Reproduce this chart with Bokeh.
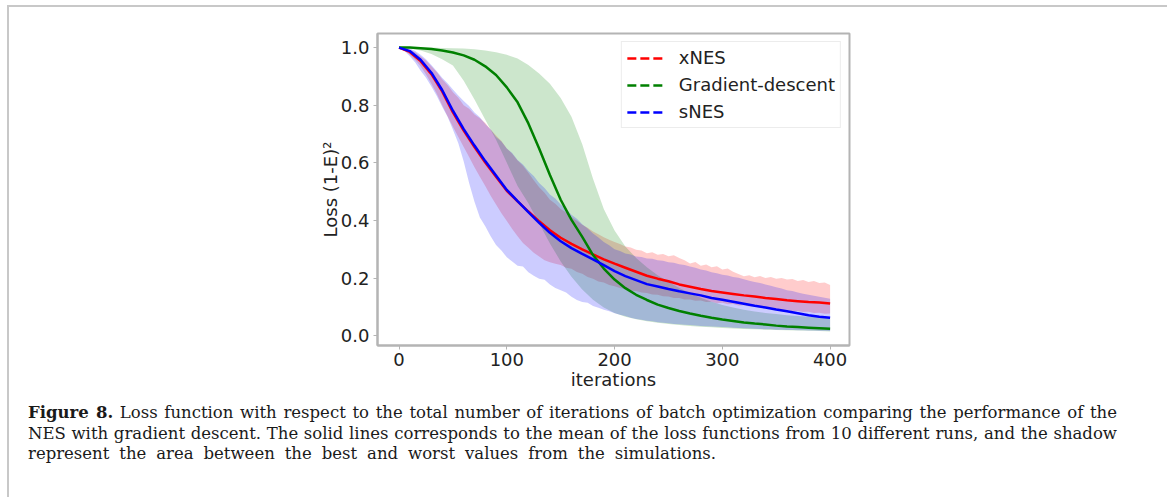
from bokeh.plotting import figure
from bokeh.models import Range1d, FixedTicker, Legend, LegendItem, Div, NumeralTickFormatter
from bokeh.layouts import column
from bokeh.embed import file_html
from bokeh.resources import INLINE

# ---------------- data ----------------
iterations = list(range(0, 401, 10))
iterations_fine = list(range(0, 401, 5))

xnes_mean = [1.0, 0.985, 0.953, 0.908, 0.848, 0.775, 0.712, 0.655, 0.601, 0.552,
             0.503, 0.466, 0.431, 0.397, 0.366, 0.340, 0.319, 0.300, 0.282, 0.265,
             0.250, 0.236, 0.222, 0.208, 0.198, 0.189, 0.178, 0.170, 0.162, 0.155,
             0.150, 0.145, 0.140, 0.136, 0.131, 0.127, 0.123, 0.120, 0.117, 0.115, 0.112]
# band edges on the finer 5-iteration grid
xnes_upper = [1.0, 0.998, 0.993, 0.984, 0.970, 0.955, 0.935, 0.915, 0.890, 0.870,
              0.845, 0.826, 0.800, 0.788, 0.768, 0.755, 0.738, 0.716, 0.695, 0.676,
              0.650, 0.632, 0.608, 0.590, 0.566, 0.540, 0.515, 0.496, 0.472, 0.458,
              0.440, 0.428, 0.412, 0.399, 0.385, 0.375, 0.362, 0.352, 0.342, 0.333,
              0.325, 0.318, 0.310, 0.306, 0.298, 0.296, 0.286, 0.290, 0.281, 0.284,
              0.276, 0.279, 0.270, 0.262, 0.251, 0.256, 0.243, 0.247, 0.238, 0.241,
              0.230, 0.233, 0.222, 0.214, 0.206, 0.210, 0.203, 0.207, 0.200, 0.204,
              0.198, 0.200, 0.195, 0.197, 0.190, 0.193, 0.186, 0.190, 0.183, 0.185, 0.176]
xnes_lower = [1.0, 0.990, 0.975, 0.957, 0.935, 0.907, 0.875, 0.840, 0.800, 0.762,
              0.725, 0.690, 0.655, 0.620, 0.585, 0.552, 0.520, 0.486, 0.455, 0.425,
              0.398, 0.370, 0.345, 0.322, 0.305, 0.288, 0.275, 0.262, 0.255, 0.250,
              0.245, 0.236, 0.232, 0.221, 0.215, 0.204, 0.198, 0.188, 0.185, 0.176,
              0.172, 0.166, 0.162, 0.156, 0.155, 0.150, 0.148, 0.143, 0.142, 0.137,
              0.136, 0.131, 0.131, 0.126, 0.126, 0.121, 0.122, 0.117, 0.118, 0.113,
              0.114, 0.109, 0.110, 0.105, 0.106, 0.101, 0.102, 0.097, 0.098, 0.093,
              0.094, 0.089, 0.090, 0.085, 0.086, 0.082, 0.083, 0.079, 0.080, 0.076, 0.077]

gd_mean = [1.0, 1.0, 0.998, 0.995, 0.990, 0.983, 0.973, 0.958, 0.935, 0.905,
           0.862, 0.810, 0.737, 0.650, 0.558, 0.472, 0.402, 0.343, 0.280, 0.233,
           0.195, 0.165, 0.142, 0.124, 0.108, 0.096, 0.086, 0.077, 0.069, 0.062,
           0.056, 0.051, 0.046, 0.042, 0.039, 0.035, 0.032, 0.030, 0.028, 0.026, 0.024]
gd_upper = [1.0, 1.0, 1.0, 1.0, 0.999, 0.998, 0.997, 0.994, 0.990, 0.984,
            0.975, 0.962, 0.940, 0.910, 0.875, 0.825, 0.760, 0.665, 0.545, 0.440,
            0.365, 0.310, 0.270, 0.238, 0.210, 0.187, 0.166, 0.148, 0.132, 0.118,
            0.107, 0.098, 0.090, 0.084, 0.079, 0.075, 0.071, 0.068, 0.066, 0.064, 0.062]
gd_lower = [1.0, 0.997, 0.990, 0.978, 0.960, 0.938, 0.885, 0.820, 0.750, 0.680,
            0.600, 0.520, 0.460, 0.390, 0.320, 0.258, 0.205, 0.160, 0.125, 0.098,
            0.079, 0.066, 0.057, 0.050, 0.045, 0.041, 0.037, 0.034, 0.031, 0.029,
            0.027, 0.025, 0.023, 0.022, 0.021, 0.020, 0.019, 0.018, 0.017, 0.016, 0.015]

snes_mean = [1.0, 0.988, 0.958, 0.913, 0.853, 0.781, 0.717, 0.660, 0.606, 0.556,
             0.506, 0.467, 0.429, 0.392, 0.357, 0.328, 0.304, 0.284, 0.265, 0.245,
             0.224, 0.207, 0.193, 0.179, 0.171, 0.162, 0.154, 0.147, 0.140, 0.131,
             0.125, 0.118, 0.111, 0.104, 0.098, 0.091, 0.085, 0.078, 0.071, 0.066, 0.062]
snes_upper = [1.0, 0.999, 0.997, 0.988, 0.975, 0.960, 0.940, 0.918, 0.895, 0.876,
              0.855, 0.834, 0.815, 0.797, 0.775, 0.758, 0.735, 0.716, 0.690, 0.674,
              0.650, 0.634, 0.610, 0.594, 0.572, 0.554, 0.530, 0.513, 0.490, 0.476,
              0.455, 0.440, 0.420, 0.406, 0.387, 0.372, 0.355, 0.341, 0.325, 0.314,
              0.300, 0.294, 0.285, 0.282, 0.275, 0.273, 0.268, 0.267, 0.262, 0.260,
              0.255, 0.253, 0.248, 0.245, 0.240, 0.236, 0.230, 0.226, 0.220, 0.217,
              0.212, 0.209, 0.204, 0.201, 0.196, 0.191, 0.186, 0.183, 0.178, 0.173,
              0.168, 0.164, 0.158, 0.155, 0.150, 0.146, 0.142, 0.139, 0.135, 0.132, 0.128]
snes_lower = [1.0, 0.988, 0.970, 0.948, 0.920, 0.895, 0.865, 0.832, 0.795, 0.760,
              0.715, 0.668, 0.605, 0.530, 0.465, 0.410, 0.380, 0.345, 0.315, 0.296,
              0.272, 0.258, 0.243, 0.240, 0.220, 0.208, 0.198, 0.194, 0.178, 0.166,
              0.158, 0.150, 0.135, 0.124, 0.117, 0.114, 0.103, 0.097, 0.090, 0.085,
              0.078, 0.073, 0.068, 0.062, 0.058, 0.055, 0.052, 0.050, 0.047, 0.045,
              0.043, 0.041, 0.040, 0.038, 0.037, 0.035, 0.034, 0.033, 0.032, 0.031,
              0.030, 0.029, 0.028, 0.027, 0.026, 0.025, 0.024, 0.023, 0.022, 0.022,
              0.021, 0.021, 0.020, 0.020, 0.019, 0.019, 0.018, 0.018, 0.017, 0.017, 0.016]

series_names = ["xNES", "Gradient-descent", "sNES"]
x_ticks = [0, 100, 200, 300, 400]
y_ticks = [0.0, 0.2, 0.4, 0.6, 0.8, 1.0]

caption_bold = "Figure 8."
caption_lines = [
    "Loss function with respect to the total number of iterations of batch optimization comparing the performance of the",
    "NES with gradient descent. The solid lines corresponds to the mean of the loss functions from 10 different runs, and the shadow",
    "represent the area between the best and worst values from the simulations.",
]

# ---------------- layout ----------------
PAGE_L, PAGE_T, BORDER = 7, 5, 2
IN_L, IN_T = PAGE_L + BORDER, PAGE_T + BORDER   # content origin on the page
IN_R = 1161
FIG_W = IN_R - IN_L
FL, FR, FT, FB = 377, 849, 33, 345            # frame in page pixels
FIG_BOTTOM_PAD = 50
FIG_H = (FT - IN_T) + (FB - FT) + FIG_BOTTOM_PAD

p = figure(width=FIG_W, height=FIG_H, output_backend="svg", toolbar_location=None,
           x_range=Range1d(-20, 418), y_range=Range1d(-0.034, 1.049),
           min_border_left=FL - IN_L, min_border_right=IN_R - FR,
           min_border_top=FT - IN_T, min_border_bottom=FIG_BOTTOM_PAD)
p.background_fill_color = "white"
p.border_fill_color = "white"
p.outline_line_color = "#b4b4b4"
p.outline_line_width = 2
p.grid.visible = False

colors = {"xNES": "#ff0000", "Gradient-descent": "#008000", "sNES": "#0000ff"}

# bands
p.varea(x=iterations_fine, y1=xnes_lower, y2=xnes_upper, fill_color=colors["xNES"], fill_alpha=0.2)
p.varea(x=iterations, y1=gd_lower, y2=gd_upper, fill_color=colors["Gradient-descent"], fill_alpha=0.2)
p.varea(x=iterations_fine, y1=snes_lower, y2=snes_upper, fill_color=colors["sNES"], fill_alpha=0.2)

# mean lines
p.line(x=iterations, y=xnes_mean, line_color=colors["xNES"], line_width=2.5)
p.line(x=iterations, y=gd_mean, line_color=colors["Gradient-descent"], line_width=2.5)
p.line(x=iterations, y=snes_mean, line_color=colors["sNES"], line_width=2.5)

# legend with dashed samples
nan = float("nan")
items = []
for name in series_names:
    r = p.line(x=[nan], y=[nan], line_color=colors[name], line_width=2.5, line_dash="9 4")
    items.append(LegendItem(label=name, renderers=[r]))
legend = Legend(items=items, location="top_right")
legend.label_text_font = "DejaVu Sans"
legend.label_text_font_size = "18px"
legend.label_text_color = "#222222"
legend.glyph_width = 37
legend.glyph_height = 20
legend.label_height = 20
legend.label_width = 152
legend.label_standoff = 15
legend.spacing = 6
legend.padding = 5
legend.margin = 8
legend.border_line_color = "#d9d9d9"
legend.border_line_width = 1
legend.background_fill_alpha = 0.85
p.add_layout(legend)

# axes
for ax in (p.xaxis[0], p.yaxis[0]):
    ax.axis_line_color = "#b4b4b4"
    ax.axis_line_width = 2
    ax.major_tick_line_color = "#b4b4b4"
    ax.major_tick_line_width = 1
    ax.major_tick_out = 4
    ax.major_tick_in = 0
    ax.minor_tick_line_color = None
    ax.major_label_text_font = "DejaVu Sans"
    ax.major_label_text_font_size = "18px"
    ax.major_label_text_color = "#222222"
    ax.axis_label_text_font = "DejaVu Sans"
    ax.axis_label_text_font_size = "18px"
    ax.axis_label_text_font_style = "normal"
    ax.axis_label_text_color = "#222222"

p.xaxis.ticker = FixedTicker(ticks=x_ticks)
p.yaxis.ticker = FixedTicker(ticks=y_ticks)
p.yaxis.formatter = NumeralTickFormatter(format="0.0")
p.xaxis.axis_label = "iterations"
p.yaxis.axis_label = "Loss (1-E)²"
p.xaxis.major_label_standoff = 3
p.xaxis.axis_label_standoff = 0
p.yaxis.major_label_standoff = 4
p.yaxis.axis_label_standoff = -3

# caption
just = "text-align:justify;text-align-last:justify;"
cap_html = (
    "<div style=\"font-family:'DejaVu Serif';font-size:16.5px;line-height:20.5px;"
    "color:#1a1a1a;box-sizing:border-box;width:1103px;padding:3px 0 0 14px;\">"
    f"<div style=\"{just}\"><b>{caption_bold}</b> {caption_lines[0]}</div>"
    f"<div style=\"{just}\">{caption_lines[1]}</div>"
    f"<div style=\"white-space:nowrap;word-spacing:4.7px;\">{caption_lines[2]}</div>"
    "</div>"
)
cap = Div(text=cap_html, width=FIG_W, height=497 - IN_T - FIG_H)

root = column(p, cap, margin=(PAGE_T, 0, 0, PAGE_L),
              styles={"border-top": f"{BORDER}px solid #c8c8c8",
                      "border-left": f"{BORDER}px solid #c8c8c8",
                      "border-right": f"{BORDER}px solid #c8c8c8"})

open("out.html", "w").write(file_html(root, INLINE))
